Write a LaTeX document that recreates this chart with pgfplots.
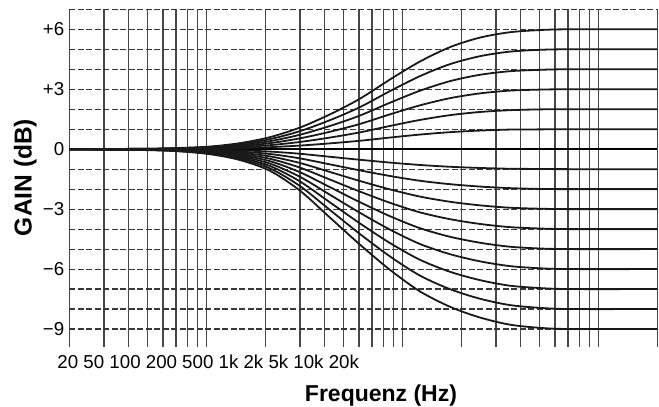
\documentclass[border=0pt]{standalone}
\usepackage{fontspec}
\setmainfont{Liberation Sans}
\usepackage{pgfplots}
\usepackage{pgfplotstable}
\pgfplotsset{compat=1.18}

% shelving curves, gain (dB) against frequency (Hz)
\pgfplotstableread{
f     p1   p2   p3   p4   p5   p6   m1    m2    m3    m4    m5    m6    m7    m8    m9
20    0    0    0    0    0    0    0     0     0     0     0     0     0     0     0
51    0.00 0.01 0.01 0.02 0.02 0.02 -0.01 -0.01 -0.02 -0.02 -0.03 -0.03 -0.04 -0.04 -0.05
73    0.01 0.02 0.03 0.04 0.05 0.06 -0.01 -0.02 -0.04 -0.05 -0.06 -0.07 -0.08 -0.10 -0.11
104   0.02 0.04 0.07 0.09 0.11 0.13 -0.03 -0.06 -0.08 -0.11 -0.14 -0.17 -0.20 -0.22 -0.25
148   0.05 0.10 0.15 0.20 0.25 0.30 -0.06 -0.12 -0.18 -0.24 -0.30 -0.36 -0.42 -0.48 -0.54
211   0.10 0.20 0.30 0.40 0.50 0.60 -0.12 -0.24 -0.36 -0.48 -0.60 -0.72 -0.84 -0.96 -1.08
300   0.18 0.36 0.54 0.72 0.90 1.08 -0.23 -0.46 -0.69 -0.92 -1.15 -1.38 -1.61 -1.84 -2.07
427   0.29 0.58 0.87 1.16 1.45 1.74 -0.38 -0.76 -1.14 -1.52 -1.90 -2.28 -2.66 -3.04 -3.42
607   0.42 0.84 1.26 1.68 2.10 2.52 -0.53 -1.06 -1.59 -2.12 -2.65 -3.18 -3.71 -4.24 -4.77
863   0.58 1.16 1.74 2.32 2.90 3.48 -0.67 -1.34 -2.01 -2.68 -3.35 -4.02 -4.69 -5.36 -6.03
1227  0.73 1.46 2.19 2.92 3.65 4.38 -0.79 -1.58 -2.37 -3.16 -3.95 -4.74 -5.53 -6.32 -7.11
1745  0.85 1.70 2.55 3.40 4.25 5.10 -0.88 -1.75 -2.63 -3.50 -4.38 -5.25 -6.13 -7.00 -7.88
2481  0.93 1.86 2.79 3.72 4.65 5.58 -0.94 -1.87 -2.81 -3.74 -4.68 -5.61 -6.55 -7.48 -8.42
3528  0.98 1.95 2.93 3.90 4.88 5.85 -0.98 -1.95 -2.93 -3.90 -4.88 -5.85 -6.83 -7.80 -8.78
5017  0.99 1.99 2.98 3.97 4.97 5.96 -0.99 -1.99 -2.98 -3.97 -4.97 -5.96 -6.95 -7.94 -8.94
7134  1    2    3    4    5    6    -1    -2    -3    -4    -5    -6    -7    -8    -9
20000 1    2    3    4    5    6    -1    -2    -3    -4    -5    -6    -7    -8    -9
}\gaintab

\newcommand\tickfont{\fontsize{18.7bp}{22bp}\selectfont}

\begin{document}
\begin{tikzpicture}
\begin{axis}[
  scale only axis,
  width=588bp, height=337.7bp,
  xmode=log,
  xmin=20, xmax=20000,
  ymin=-9.9, ymax=7,
  axis line style={draw=none},
  major tick length=0, minor tick length=0,
  xtick={20,30,40,50,60,70,80,90,100,200,300,400,500,600,700,800,900,1000,
         2000,3000,4000,5000,6000,7000,8000,9000,10000,20000},
  xticklabels={,,},
  ytick={-9,-6,-3,0,3,6},
  yticklabels={−9,−6,−3,0,+3,+6},
  minor ytick={-8,-7,-5,-4,-2,-1,1,2,4,5,7},
  xmajorgrids, ymajorgrids, yminorgrids,
  major x grid style={solid, black!72, line width=1.5bp},
  major y grid style={dash pattern=on 6bp off 2.5bp, black!78, line width=1.1bp},
  minor y grid style={dash pattern=on 6bp off 2.5bp, black!78, line width=1.1bp},
  yticklabel style={font=\tickfont, anchor=east, xshift=-1.5bp},
  clip=false,
]
  \addplot[black, line width=1.8bp] coordinates {(20,0) (20000,0)};
  \pgfplotsinvokeforeach{p1,p2,p3,p4,p5,p6,m1,m2,m3,m4,m5,m6,m7,m8,m9}{
    \addplot[black!90, line width=1.8bp, smooth] table[x=f, y=#1] {\gaintab};
  }
\end{axis}
% frequency labels as typed in the original, left-aligned under the grid
\node[anchor=base west, inner sep=0, font=\tickfont] at (-12bp,-21.3bp)
  {20 50 100 200 500 1k 2k 5k 10k 20k};
\node[anchor=base, inner sep=0, font=\fontsize{23bp}{27bp}\selectfont\bfseries]
  at (311.7bp,-54.5bp) {Frequenz (Hz)};
\node[anchor=base, rotate=90, inner sep=0, font=\fontsize{24.5bp}{28bp}\selectfont\bfseries]
  at (-37.6bp,169.5bp) {GAIN (dB)};
\pgfresetboundingbox
\path[use as bounding box] (-69.3bp,-60bp) rectangle (589.7bp,347bp);
\end{tikzpicture}
\end{document}
